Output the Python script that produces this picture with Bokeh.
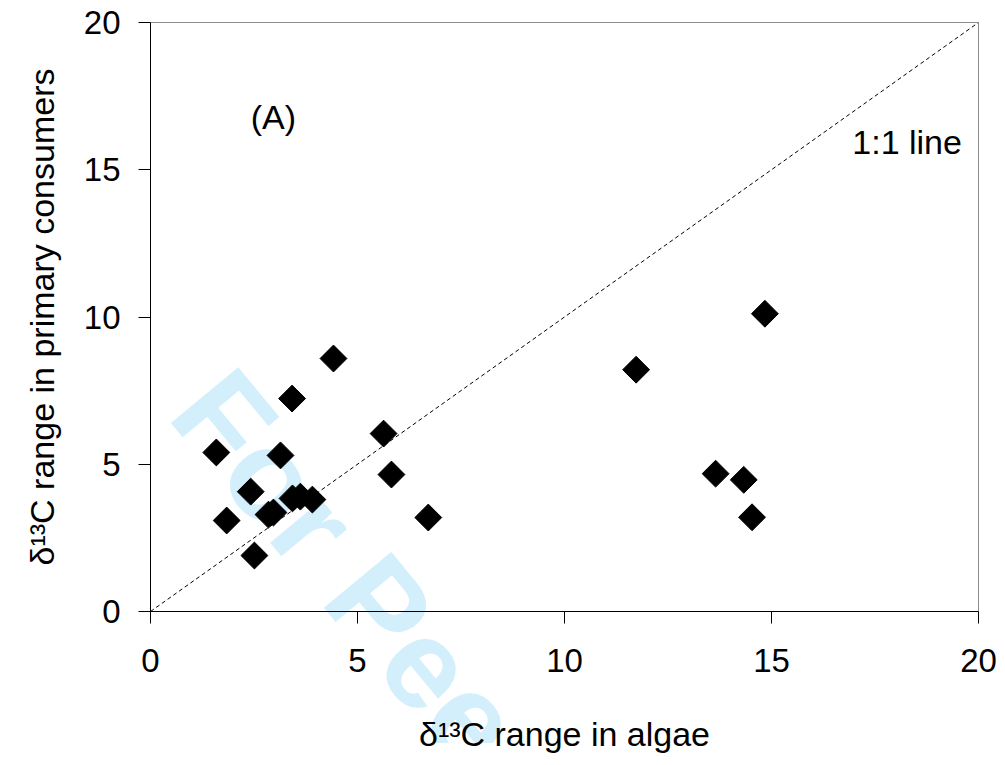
import math
from bokeh.plotting import figure
from bokeh.models import Label, FixedTicker, Range1d, GridBox
from bokeh.embed import file_html
from bokeh.resources import INLINE

# ---- data ----
algae_range = [1.59, 1.84, 2.42, 2.51, 2.85, 2.97, 3.14, 3.42, 3.43, 3.62, 3.91,
               4.42, 5.63, 5.82, 6.71, 11.73, 13.65, 14.33, 14.53, 14.84]
consumer_range = [5.40, 3.09, 4.07, 1.90, 3.29, 3.36, 5.30, 7.23, 3.84, 3.90, 3.80,
                  8.59, 6.04, 4.65, 3.19, 8.21, 4.68, 4.47, 3.20, 10.11]
one_to_one = [0, 20]
ticks = [0, 5, 10, 15, 20]

FONT = "Liberation Sans"
W, H = 1005, 765
LEFT, RIGHT, TOP, BOTTOM = 150, 27, 22, 154

# ---- background layer: the "For Peer Review" watermark (its frame aligns with the chart's) ----
bg = figure(frame_width=W - LEFT, frame_height=H - TOP, output_backend="svg",
            toolbar_location=None,
            x_range=Range1d(LEFT, W), y_range=Range1d(H, TOP),
            x_axis_location=None, y_axis_location=None,
            min_border=0, min_border_left=0, min_border_right=0,
            min_border_top=0, min_border_bottom=0)
bg.outline_line_color = None
bg.background_fill_color = "white"
bg.border_fill_color = "white"
bg.xgrid.visible = False
bg.ygrid.visible = False
bg.add_layout(Label(x=199, y=388, text="For Peer Review", angle=-50.4 * math.pi / 180,
                    text_font=FONT, text_font_size="127px", text_font_style="bold",
                    text_color="#d3effc", text_align="left", text_baseline="alphabetic"))

# ---- chart layer (transparent, drawn on top) ----
p = figure(width=W, height=H, output_backend="svg", toolbar_location=None,
           x_range=(0, 20), y_range=(0, 20),
           min_border_left=LEFT, min_border_right=RIGHT,
           min_border_top=TOP, min_border_bottom=BOTTOM)

p.background_fill_color = None
p.border_fill_color = None
p.outline_line_color = "#8c8c8c"
p.outline_line_width = 1
p.xgrid.visible = False
p.ygrid.visible = False

# 1:1 line
p.line(one_to_one, one_to_one, line_color="black", line_width=1, line_dash="4 3")

# points
p.scatter(algae_range, consumer_range, marker="square", size=19, angle=math.pi / 4,
          fill_color="black", line_color="black")

for ax in (p.xaxis[0], p.yaxis[0]):
    ax.ticker = FixedTicker(ticks=ticks)
    ax.minor_tick_line_color = None
    ax.major_tick_in = 0
    ax.major_tick_out = 12
    ax.major_tick_line_color = "black"
    ax.axis_line_color = "black"
    ax.major_label_text_font = FONT
    ax.major_label_text_font_size = "33px"
    ax.major_label_text_color = "black"
    ax.axis_label_text_font = FONT
    ax.axis_label_text_font_size = "34px"
    ax.axis_label_text_font_style = "normal"
    ax.axis_label_text_color = "black"

p.xaxis.axis_label = "δ¹³C range in algae"
p.yaxis.axis_label = "δ¹³C range in primary consumers"
p.xaxis.major_label_standoff = 25
p.yaxis.major_label_standoff = 18
p.xaxis.axis_label_standoff = 40
p.yaxis.axis_label_standoff = 20

p.add_layout(Label(x=2.42, y=16.8, text="(A)", text_font=FONT, text_font_size="34px",
                   text_color="black", text_align="left", text_baseline="alphabetic"))
p.add_layout(Label(x=19.6, y=15.95, text="1:1 line", text_font=FONT, text_font_size="34px",
                   text_color="black", text_align="right", text_baseline="alphabetic"))

layout = GridBox(children=[(bg, 0, 0), (p, 0, 0)])

open("out.html", "w").write(file_html(layout, INLINE))
